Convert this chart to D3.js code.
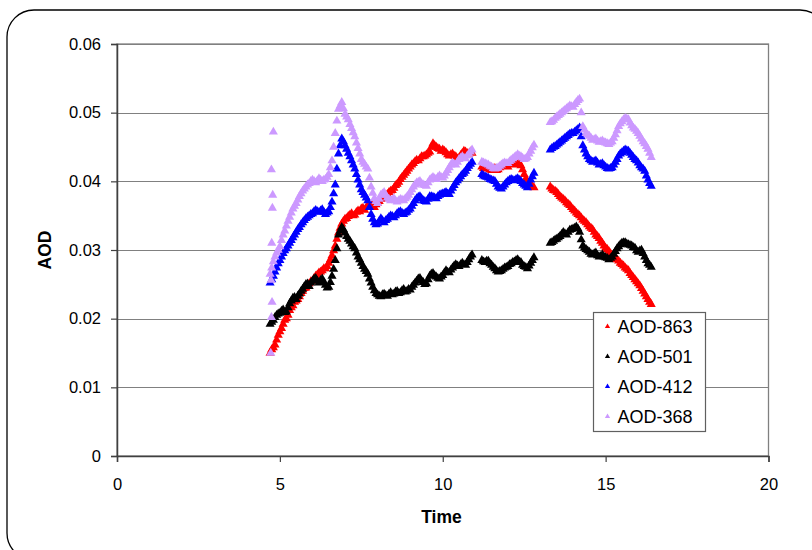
<!DOCTYPE html>
<html>
<head>
<meta charset="utf-8">
<script src="https://cdn.jsdelivr.net/npm/d3@7"></script>
<style>
  body { margin: 0; background: #fff; }
  svg { display: block; font-family: "Liberation Sans", Arial, sans-serif; }
</style>
</head>
<body>
<svg id="chart" width="812" height="550"></svg>
<script>
// Measurement times (hours), first reading set
const time = [
  4.7,4.8,4.9,5.0,5.1,5.2,5.3,5.4,5.5,5.6,5.7,5.8,5.9,6.0,6.1,6.2,6.3,6.4,6.5,6.6,
  6.7,6.8,6.9,7.0,7.1,7.2,7.3,7.4,7.5,7.6,7.7,7.8,7.9,8.0,8.1,8.2,8.3,8.4,8.5,8.6,
  8.7,8.8,8.9,9.0,9.1,9.2,9.3,9.4,9.5,9.6,9.7,9.8,9.9,10.0,10.1,10.2,10.3,10.4,10.5,10.6,
  10.7,10.8,10.9,
  11.2,11.3,11.4,11.5,11.6,11.7,11.8,11.9,12.0,12.1,12.2,12.3,12.4,12.5,12.6,12.7,12.8,
  13.3,13.4,13.5,13.6,13.7,13.8,13.9,14.0,14.1,14.2,14.3,14.4,14.5,14.6,14.7,14.8,14.9,15.0,
  15.1,15.2,15.3,15.4,15.5,15.6,15.7,15.8,15.9,16.0,16.1,16.2,16.3,16.4
];

const aod863 = [
  0.0150,0.0158,0.0169,0.0181,0.0192,0.0200,0.0212,0.0219,0.0226,0.0232,
  0.0240,0.0245,0.0251,0.0255,0.0262,0.0267,0.0270,0.0273,0.0281,0.0292,
  0.0306,0.0325,0.0338,0.0345,0.0349,0.0353,0.0351,0.0357,0.0360,0.0358,
  0.0364,0.0366,0.0362,0.0368,0.0374,0.0378,0.0381,0.0386,0.0390,0.0396,
  0.0403,0.0409,0.0415,0.0421,0.0426,0.0431,0.0433,0.0436,0.0439,0.0443,
  0.0455,0.0450,0.0447,0.0446,0.0442,0.0437,0.0440,0.0436,0.0434,0.0441,
  0.0443,0.0440,0.0441,
  0.0421,0.0418,0.0420,0.0416,0.0419,0.0417,0.0422,0.0425,0.0421,0.0427,0.0424,0.0428,0.0423,0.0410,0.0400,0.0396,0.0391,
  0.0392,0.0387,0.0384,0.0378,0.0374,0.0369,0.0365,0.0359,0.0354,0.0350,
  0.0344,0.0340,0.0334,0.0330,0.0322,0.0317,0.0310,0.0303,0.0298,0.0292,
  0.0287,0.0284,0.0279,0.0274,0.0270,0.0263,0.0257,0.0251,0.0244,0.0236,
  0.0228,0.0221
];

const aod501 = [
  0.0192,0.0198,0.0205,0.0208,0.0213,0.0210,0.0222,0.0230,0.0228,0.0236,
  0.0243,0.0250,0.0247,0.0255,0.0259,0.0252,0.0258,0.0249,0.0246,0.0262,
  0.0285,0.0322,0.0333,0.0325,0.0316,0.0309,0.0302,0.0290,0.0281,0.0272,
  0.0265,0.0252,0.0241,0.0235,0.0232,0.0236,0.0233,0.0238,0.0236,0.0240,
  0.0238,0.0243,0.0240,0.0242,0.0249,0.0255,0.0259,0.0253,0.0251,0.0262,
  0.0266,0.0261,0.0258,0.0263,0.0270,0.0267,0.0274,0.0279,0.0276,0.0281,
  0.0278,0.0286,0.0293,
  0.0285,0.0282,0.0284,0.0278,0.0273,0.0268,0.0270,0.0274,0.0276,0.0280,0.0283,0.0286,0.0282,0.0276,0.0273,0.0281,0.0289,
  0.0310,0.0313,0.0316,0.0320,0.0326,0.0322,0.0329,0.0331,0.0334,0.0326,
  0.0306,0.0301,0.0297,0.0293,0.0296,0.0290,0.0293,0.0289,0.0286,0.0290,
  0.0298,0.0305,0.0310,0.0311,0.0308,0.0306,0.0303,0.0297,0.0300,0.0290,
  0.0280,0.0275
];

const aod412 = [
  0.0252,0.0262,0.0274,0.0285,0.0295,0.0302,0.0310,0.0318,0.0326,0.0333,
  0.0340,0.0346,0.0350,0.0353,0.0358,0.0355,0.0359,0.0352,0.0356,0.0370,
  0.0395,0.0440,0.0462,0.0452,0.0441,0.0430,0.0418,0.0402,0.0388,0.0380,
  0.0372,0.0352,0.0340,0.0338,0.0346,0.0340,0.0345,0.0350,0.0347,0.0353,
  0.0356,0.0352,0.0355,0.0360,0.0368,0.0375,0.0378,0.0372,0.0370,0.0378,
  0.0377,0.0375,0.0380,0.0382,0.0384,0.0381,0.0390,0.0398,0.0404,0.0410,
  0.0415,0.0422,0.0428,
  0.0410,0.0407,0.0405,0.0402,0.0400,0.0392,0.0389,0.0395,0.0400,0.0403,0.0401,0.0404,0.0400,0.0395,0.0391,0.0402,0.0412,
  0.0446,0.0450,0.0453,0.0457,0.0461,0.0465,0.0469,0.0470,0.0474,0.0478,
  0.0452,0.0440,0.0432,0.0428,0.0430,0.0424,0.0426,0.0421,0.0418,0.0420,
  0.0428,0.0437,0.0442,0.0446,0.0444,0.0438,0.0432,0.0427,0.0420,0.0415,
  0.0402,0.0393
];

const aod368 = [
  0.0265,0.0283,0.0296,0.0305,0.0322,0.0335,0.0348,0.0360,0.0368,0.0378,
  0.0386,0.0392,0.0397,0.0402,0.0398,0.0404,0.0400,0.0403,0.0410,0.0430,
  0.0470,0.0505,0.0515,0.0498,0.0490,0.0477,0.0465,0.0448,0.0432,0.0425,
  0.0418,0.0392,0.0375,0.0368,0.0380,0.0384,0.0376,0.0372,0.0375,0.0370,
  0.0374,0.0372,0.0377,0.0384,0.0392,0.0398,0.0400,0.0395,0.0393,0.0402,
  0.0406,0.0403,0.0408,0.0405,0.0412,0.0420,0.0427,0.0424,0.0432,0.0436,
  0.0433,0.0440,0.0446,
  0.0428,0.0426,0.0424,0.0421,0.0418,0.0420,0.0424,0.0427,0.0426,0.0431,0.0435,0.0439,0.0436,0.0432,0.0435,0.0444,0.0453,
  0.0486,0.0489,0.0494,0.0498,0.0502,0.0506,0.0510,0.0508,0.0515,0.0520,
  0.0480,0.0470,0.0466,0.0460,0.0462,0.0457,0.0459,0.0456,0.0454,0.0458,
  0.0468,0.0480,0.0487,0.0492,0.0490,0.0481,0.0476,0.0470,0.0462,0.0455,
  0.0447,0.0435
];

// Second reading set, taken between the times above
const timeMid = [
  4.75,4.85,4.95,5.05,5.15,5.25,5.35,5.45,5.55,5.65,5.75,5.85,5.95,6.05,6.15,6.25,6.35,6.45,6.55,6.65,
  6.75,6.85,6.95,7.05,7.15,7.25,7.35,7.45,7.55,7.65,7.75,7.85,7.95,8.05,8.15,8.25,8.35,8.45,8.55,8.65,
  8.75,8.85,8.95,9.05,9.15,9.25,9.35,9.45,9.55,9.65,9.75,9.85,9.95,10.05,10.15,10.25,10.35,10.45,10.55,10.65,
  10.75,10.85,
  11.25,11.35,11.45,11.55,11.65,11.75,11.85,11.95,12.05,12.15,12.25,12.35,12.45,12.55,12.65,12.75,
  13.35,13.45,13.55,13.65,13.75,13.85,13.95,14.05,14.15,14.25,14.35,14.45,14.55,14.65,14.75,14.85,
  14.95,15.05,15.15,15.25,15.35,15.45,15.55,15.65,15.75,15.85,15.95,16.05,16.15,16.25,16.35
];

const aod863Mid = [
  0.0155,0.0162,0.0176,0.0186,0.0198,0.0205,0.0216,0.0224,0.0228,0.0237,
  0.0244,0.0247,0.0254,0.0259,0.0264,0.0268,0.0273,0.0276,0.0286,0.0299,
  0.0316,0.0332,0.0342,0.0346,0.0351,0.0350,0.0355,0.0356,0.0361,0.0362,
  0.0363,0.0365,0.0366,0.0371,0.0375,0.0380,0.0384,0.0387,0.0394,0.0399,
  0.0406,0.0412,0.0418,0.0424,0.0429,0.0430,0.0436,0.0437,0.0441,0.0450,
  0.0452,0.0448,0.0444,0.0444,0.0439,0.0439,0.0437,0.0433,0.0438,0.0444,
  0.0441,0.0443,
  0.0419,0.0421,0.0417,0.0418,0.0416,0.0420,0.0424,0.0422,0.0425,0.0426,0.0425,0.0426,0.0417,0.0404,0.0398,0.0393,
  0.0389,0.0386,0.0381,0.0376,0.0372,0.0367,0.0362,0.0357,0.0352,0.0347,
  0.0342,0.0337,0.0332,0.0326,0.0320,0.0313,0.0306,0.0301,0.0295,0.0289,
  0.0286,0.0281,0.0277,0.0272,0.0266,0.0260,0.0254,0.0248,0.0240,0.0232,
  0.0224
];

const aod501Mid = [
  0.0195,0.0202,0.0207,0.0211,0.0209,0.0216,0.0226,0.0231,0.0233,0.0240,
  0.0247,0.0251,0.0252,0.0258,0.0255,0.0256,0.0253,0.0245,0.0253,0.0272,
  0.0302,0.0328,0.0330,0.0320,0.0313,0.0305,0.0296,0.0286,0.0276,0.0269,
  0.0258,0.0246,0.0237,0.0233,0.0235,0.0234,0.0236,0.0235,0.0239,0.0237,
  0.0241,0.0239,0.0243,0.0246,0.0252,0.0258,0.0255,0.0250,0.0257,0.0265,
  0.0263,0.0259,0.0261,0.0267,0.0268,0.0271,0.0277,0.0277,0.0279,0.0279,
  0.0282,0.0290,
  0.0283,0.0284,0.0280,0.0275,0.0270,0.0269,0.0272,0.0275,0.0279,0.0282,0.0285,0.0283,0.0278,0.0275,0.0277,0.0285,
  0.0311,0.0315,0.0318,0.0323,0.0324,0.0326,0.0330,0.0332,0.0331,0.0315,
  0.0303,0.0299,0.0294,0.0295,0.0292,0.0291,0.0290,0.0288,0.0288,0.0294,
  0.0302,0.0308,0.0311,0.0309,0.0307,0.0304,0.0299,0.0299,0.0295,0.0285,
  0.0278
];

const aod412Mid = [
  0.0257,0.0268,0.0280,0.0290,0.0299,0.0306,0.0314,0.0322,0.0330,0.0337,
  0.0343,0.0348,0.0352,0.0356,0.0356,0.0357,0.0355,0.0354,0.0362,0.0382,
  0.0418,0.0452,0.0458,0.0447,0.0436,0.0424,0.0410,0.0395,0.0384,0.0376,
  0.0362,0.0345,0.0337,0.0342,0.0343,0.0343,0.0348,0.0349,0.0350,0.0355,
  0.0354,0.0354,0.0358,0.0364,0.0372,0.0377,0.0375,0.0371,0.0374,0.0378,
  0.0376,0.0378,0.0381,0.0383,0.0382,0.0386,0.0394,0.0401,0.0407,0.0412,
  0.0419,0.0425,
  0.0408,0.0406,0.0403,0.0401,0.0396,0.0390,0.0392,0.0398,0.0402,0.0402,0.0403,0.0402,0.0397,0.0393,0.0396,0.0407,
  0.0448,0.0451,0.0455,0.0459,0.0463,0.0467,0.0470,0.0472,0.0476,0.0465,
  0.0446,0.0436,0.0430,0.0429,0.0427,0.0425,0.0423,0.0419,0.0419,0.0424,
  0.0432,0.0440,0.0444,0.0445,0.0441,0.0435,0.0430,0.0423,0.0418,0.0408,
  0.0397
];

const aod368Mid = [
  0.0274,0.0290,0.0300,0.0314,0.0328,0.0342,0.0354,0.0364,0.0373,0.0382,
  0.0389,0.0395,0.0400,0.0400,0.0401,0.0402,0.0402,0.0406,0.0420,0.0450,
  0.0488,0.0510,0.0506,0.0494,0.0483,0.0471,0.0456,0.0440,0.0428,0.0421,
  0.0405,0.0383,0.0371,0.0374,0.0382,0.0380,0.0374,0.0373,0.0372,0.0372,
  0.0373,0.0375,0.0380,0.0388,0.0395,0.0399,0.0397,0.0394,0.0398,0.0404,
  0.0404,0.0406,0.0406,0.0408,0.0416,0.0424,0.0425,0.0428,0.0434,0.0434,
  0.0437,0.0443,
  0.0427,0.0425,0.0422,0.0419,0.0419,0.0422,0.0426,0.0426,0.0429,0.0433,0.0437,0.0437,0.0434,0.0433,0.0440,0.0449,
  0.0487,0.0492,0.0496,0.0500,0.0504,0.0508,0.0509,0.0512,0.0518,0.0500,
  0.0475,0.0468,0.0463,0.0461,0.0459,0.0458,0.0457,0.0455,0.0456,0.0463,
  0.0474,0.0484,0.0490,0.0491,0.0485,0.0478,0.0473,0.0466,0.0458,0.0451,
  0.0441
];

// Scattered start-up readings of the 368 nm channel
const startTime368 = [4.72,4.74,4.76,4.73,4.75,4.77,4.78,4.74,4.80];
const start368 = [0.0150,0.0202,0.0224,0.0256,0.0310,0.0361,0.0380,0.0417,0.0472];

const seriesNames = ["AOD-863", "AOD-501", "AOD-412", "AOD-368"];
const seriesColors = ["#ff0000", "#000000", "#0000ff", "#cc99ff"];

const xTicks = [0, 5, 10, 15, 20];
const yTicks = [0, 0.01, 0.02, 0.03, 0.04, 0.05, 0.06];
const yTickLabels = ["0", "0.01", "0.02", "0.03", "0.04", "0.05", "0.06"];

function pairs(ts, vs) { return ts.map((t, i) => [t, vs[i]]); }

const series = [
  { name: seriesNames[0], color: seriesColors[0],
    pts: pairs(time, aod863).concat(pairs(timeMid, aod863Mid)) },
  { name: seriesNames[1], color: seriesColors[1],
    pts: pairs(time, aod501).concat(pairs(timeMid, aod501Mid)) },
  { name: seriesNames[2], color: seriesColors[2],
    pts: pairs(time, aod412).concat(pairs(timeMid, aod412Mid)) },
  { name: seriesNames[3], color: seriesColors[3],
    pts: pairs(startTime368, start368).concat(pairs(time, aod368), pairs(timeMid, aod368Mid)) }
];

const svg = d3.select("#chart");
const plot = { left: 117, right: 768.5, top: 44, bottom: 456 };

const x = d3.scaleLinear().domain([0, 20]).range([plot.left, plot.right]);
const y = d3.scaleLinear().domain([0, 0.06]).range([plot.bottom, plot.top]);

// Outer chart frame with rounded corners
svg.append("rect")
  .attr("x", 7).attr("y", 10).attr("width", 820).attr("height", 550)
  .attr("rx", 27).attr("ry", 27)
  .attr("fill", "#fff").attr("stroke", "#000").attr("stroke-width", 1.3);

// Plot area border
svg.append("rect")
  .attr("x", plot.left).attr("y", plot.top)
  .attr("width", plot.right - plot.left).attr("height", plot.bottom - plot.top)
  .attr("fill", "none").attr("stroke", "#808080").attr("stroke-width", 1.3);

// Horizontal gridlines
svg.append("g").selectAll("line")
  .data(yTicks.filter(v => v > 0))
  .join("line")
  .attr("x1", plot.left).attr("x2", plot.right)
  .attr("y1", d => Math.round(y(d)) + 0.5).attr("y2", d => Math.round(y(d)) + 0.5)
  .attr("stroke", "#808080").attr("stroke-width", 1.2);

// Axes
const yAxis = d3.axisLeft(y).tickValues(yTicks)
  .tickFormat((d, i) => yTickLabels[i]).tickSize(6).tickPadding(10);
const xAxis = d3.axisBottom(x).tickValues(xTicks)
  .tickFormat(d3.format("d")).tickSize(6).tickPadding(16);

const gy = svg.append("g").attr("transform", `translate(${plot.left},0)`).call(yAxis);
const gx = svg.append("g").attr("transform", `translate(0,${plot.bottom})`).call(xAxis);

[gx, gy].forEach(g => {
  g.select(".domain").attr("stroke", "#404040").attr("stroke-width", 1.5);
  g.selectAll(".tick line").attr("stroke", "#404040").attr("stroke-width", 1.2);
  g.selectAll(".tick text").attr("fill", "#000")
    .style("font-family", '"Liberation Sans", Arial, sans-serif').style("font-size", "16.5px");
});

// Axis titles
svg.append("text")
  .attr("x", 441.5).attr("y", 523).attr("text-anchor", "middle")
  .style("font-weight", "bold").style("font-size", "17.5px").text("Time");
svg.append("text")
  .attr("transform", "translate(51,250) rotate(-90)").attr("text-anchor", "middle")
  .style("font-weight", "bold").style("font-size", "17.5px").text("AOD");

// Data markers
const tri = d3.symbol().type(d3.symbolTriangle).size(36);
series.forEach(s => {
  svg.append("g").selectAll("path")
    .data(s.pts)
    .join("path")
    .attr("d", tri)
    .attr("transform", d => `translate(${x(d[0])},${y(d[1])})`)
    .attr("fill", s.color);
});

// Legend
const lg = svg.append("g").attr("transform", "translate(593.5,312.5)");
lg.append("rect").attr("width", 112).attr("height", 119)
  .attr("fill", "#fff").attr("stroke", "#606060").attr("stroke-width", 1.2);
const legendTri = d3.symbol().type(d3.symbolTriangle).size(12);
series.forEach((s, i) => {
  const row = lg.append("g").attr("transform", `translate(0,${14 + i * 30})`);
  row.append("path").attr("d", legendTri).attr("transform", "translate(14,0)").attr("fill", s.color);
  row.append("text").attr("x", 24).attr("y", 0).attr("dy", "0.35em")
    .style("font-size", "18px").text(s.name);
});
</script>
</body>
</html>
